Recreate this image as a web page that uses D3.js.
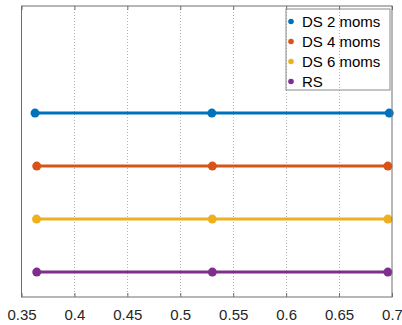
<!DOCTYPE html>
<html>
<head>
<meta charset="utf-8">
<script src="https://cdn.jsdelivr.net/npm/d3@7"></script>
<style>
  body { margin: 0; background: #fff; }
  text { font-family: "Liberation Sans", Arial, Helvetica, sans-serif; }
</style>
</head>
<body>
<svg id="chart"></svg>
<script>
const width = 402;
const height = 325;

// Data
const seriesNames = ["DS 2 moms", "DS 4 moms", "DS 6 moms", "RS"];
const seriesColors = ["#0072BD", "#D95319", "#EDB120", "#7E2F8E"];
const seriesLevels = [4, 3, 2, 1];
const ds2X = [0.3628, 0.5298, 0.6974];
const ds4X = [0.3644, 0.5303, 0.6961];
const ds6X = [0.3642, 0.5302, 0.6961];
const rsX = [0.3644, 0.5303, 0.6961];
const xTicks = [0.35, 0.4, 0.45, 0.5, 0.55, 0.6, 0.65, 0.7];

const seriesX = [ds2X, ds4X, ds6X, rsX];

const plotLeft = 21.5, plotRight = 392, plotTop = 6, plotBottom = 297;

const svg = d3.select("#chart").attr("width", width).attr("height", height);

const x = d3.scaleLinear().domain([0.35, 0.7]).range([plotLeft, plotRight]);
const y = d3.scaleLinear().domain([0.53, 6.02]).range([plotBottom, plotTop]);

// Vertical dotted grid
svg.append("g")
  .selectAll("line")
  .data(xTicks.slice(1, -1))
  .enter()
  .append("line")
  .attr("x1", (d) => Math.round(x(d)) + 0.5)
  .attr("x2", (d) => Math.round(x(d)) + 0.5)
  .attr("y1", plotTop)
  .attr("y2", plotBottom)
  .style("stroke", "#b0b0b0")
  .style("stroke-width", 1)
  .style("stroke-dasharray", "1,2");

// Series lines and markers
const line = d3.line().x((d) => x(d[0])).y((d) => y(d[1]));
seriesNames.forEach((name, i) => {
  const pts = seriesX[i].map((v) => [v, seriesLevels[i]]);
  const g = svg.append("g");
  g.append("path")
    .attr("d", line(pts))
    .style("fill", "none")
    .style("stroke", seriesColors[i])
    .style("stroke-width", 3);
  g.selectAll("circle")
    .data(pts)
    .enter()
    .append("circle")
    .attr("cx", (d) => x(d[0]))
    .attr("cy", (d) => y(d[1]))
    .attr("r", 4.5)
    .style("fill", seriesColors[i]);
});

// Axes box
svg.append("rect")
  .attr("x", plotLeft)
  .attr("y", plotTop)
  .attr("width", plotRight - plotLeft)
  .attr("height", plotBottom - plotTop)
  .style("fill", "none")
  .style("stroke", "#6e6e6e")
  .style("stroke-width", 1);

// Bottom axis (inward ticks) and top ticks
const xAxis = d3.axisBottom(x)
  .tickValues(xTicks)
  .tickSize(-4)
  .tickPadding(10)
  .tickFormat((d) => String(+d.toFixed(2)));
const gx = svg.append("g").attr("transform", `translate(0,${plotBottom})`).call(xAxis);
gx.select(".domain").remove();
gx.selectAll(".tick line").style("stroke", "#6e6e6e");
gx.selectAll(".tick text")
  .style("font-size", "15px")
  .style("fill", "#262626")
  .attr("y", 12)
  .attr("dy", "0.71em");

const gxTop = svg.append("g").attr("transform", `translate(0,${plotTop})`)
  .call(d3.axisTop(x).tickValues(xTicks).tickSize(-4).tickFormat(""));
gxTop.select(".domain").remove();
gxTop.selectAll(".tick line").style("stroke", "#6e6e6e");

// Legend
const legend = svg.append("g").attr("transform", "translate(286,9)");
legend.append("rect")
  .attr("x", 0)
  .attr("y", 0)
  .attr("width", 104)
  .attr("height", 81)
  .style("fill", "none")
  .style("stroke", "#8a8a8a")
  .style("stroke-width", 1);
const items = legend.selectAll(".item")
  .data(seriesNames)
  .enter()
  .append("g")
  .attr("transform", (d, i) => `translate(0,${12.5 + i * 20})`);
items.append("circle")
  .attr("cx", 5)
  .attr("cy", 0)
  .attr("r", 2.8)
  .style("fill", (d, i) => seriesColors[i]);
items.append("text")
  .attr("x", 16)
  .attr("y", 0)
  .attr("dy", "0.35em")
  .style("font-size", "15px")
  .style("fill", "#000")
  .text((d) => d);
</script>
</body>
</html>
